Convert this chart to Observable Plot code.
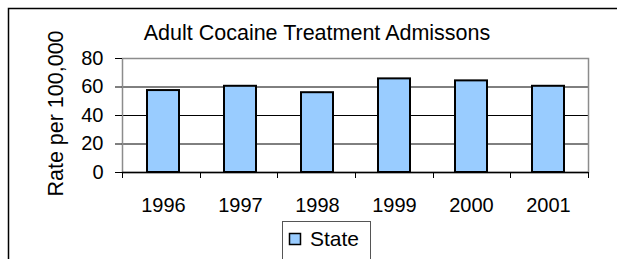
<!DOCTYPE html>
<html><head><meta charset="utf-8">
<script src="https://cdn.jsdelivr.net/npm/d3@7"></script>
<script src="https://cdn.jsdelivr.net/npm/@observablehq/plot@0.6"></script>
<style>body{margin:0;background:#fff;} svg{display:block;}</style>
</head><body><div id="chart"></div>
<script>
const years = ["1996", "1997", "1998", "1999", "2000", "2001"];
const stateRates = [57.5, 60.5, 56, 65.7, 64.3, 60.5];
const yTicks = [0, 20, 40, 60, 80];
const gridValues = [20, 40, 60];
const titleText = "Adult Cocaine Treatment Admissons";
const yLabel = "Rate per 100,000";
const seriesName = "State";

const data = years.map((y, i) => ({year: y, value: stateRates[i]}));
const W = 617, H = 259;
const FONT = "Arial, 'Liberation Sans', sans-serif";
const plot = Plot.plot({
  width: W, height: H,
  marginLeft: 122, marginRight: 29, marginTop: 58, marginBottom: 87,
  style: {fontFamily: FONT, fontSize: "20px", background: "#fff", color: "#000", overflow: "visible"},
  x: {domain: years, paddingInner: 0.587, paddingOuter: 0.2935},
  y: {domain: [0, 80], ticks: yTicks},
  marks: [
    Plot.ruleY(gridValues, {stroke: "#000", strokeWidth: 1}),
    Plot.frame({stroke: "#8c8c8c", strokeWidth: 1.5}),
    Plot.barY(data, {x: "year", y: "value", fill: "#99ccff", stroke: "#000", strokeWidth: 2}),
    Plot.ruleY([0], {stroke: "#000", strokeWidth: 1.5}),
    Plot.axisY(yTicks, {tickSize: 7, tickPadding: 12, label: null, stroke: "#000", fontSize: 20}),
    Plot.axisX({tickSize: 0, tickPadding: 25, label: null, fontSize: 20})
  ]
});
document.getElementById("chart").appendChild(plot);

const svg = d3.select(plot);
// x tick marks at category boundaries
const xs = plot.scale("x");
const [r0, r1] = xs.range;
const step = (r1 - r0) / years.length;
const yBase = H - 87;
d3.range(years.length + 1).forEach(i => {
  const x = Math.round(r0 + i * step) + 0.5;
  svg.append("line").attr("x1", x).attr("x2", x).attr("y1", yBase).attr("y2", yBase + 6)
    .attr("stroke", "#000").attr("stroke-width", 1);
});
// outer frame (top and left edges visible)
svg.append("path").attr("d", `M8.5,${H} L8.5,8.5 L${W},8.5`).attr("fill", "none")
  .attr("stroke", "#000").attr("stroke-width", 1.5);
// title
svg.append("text").attr("x", 317).attr("y", 40).attr("text-anchor", "middle")
  .attr("font-family", FONT).attr("font-size", 21.5).attr("fill", "#000").text(titleText);
// y label
svg.append("text").attr("transform", `translate(63,113.5) rotate(-90)`).attr("text-anchor", "middle")
  .attr("font-family", FONT).attr("font-size", 21.5).attr("fill", "#000").text(yLabel);
// legend
const lg = svg.append("g").attr("text-anchor", "start");
lg.append("rect").attr("x", 282.5).attr("y", 221.5).attr("width", 88).attr("height", 50)
  .attr("fill", "#fff").attr("stroke", "#555").attr("stroke-width", 1);
lg.append("rect").attr("x", 289.5).attr("y", 233.5).attr("width", 11).attr("height", 11)
  .attr("fill", "#99ccff").attr("stroke", "#000").attr("stroke-width", 1.5);
lg.append("text").attr("x", 310).attr("y", 246).attr("text-anchor", "start").attr("font-family", FONT).attr("font-size", 21)
  .attr("fill", "#000").text(seriesName);
</script>
</body></html>
